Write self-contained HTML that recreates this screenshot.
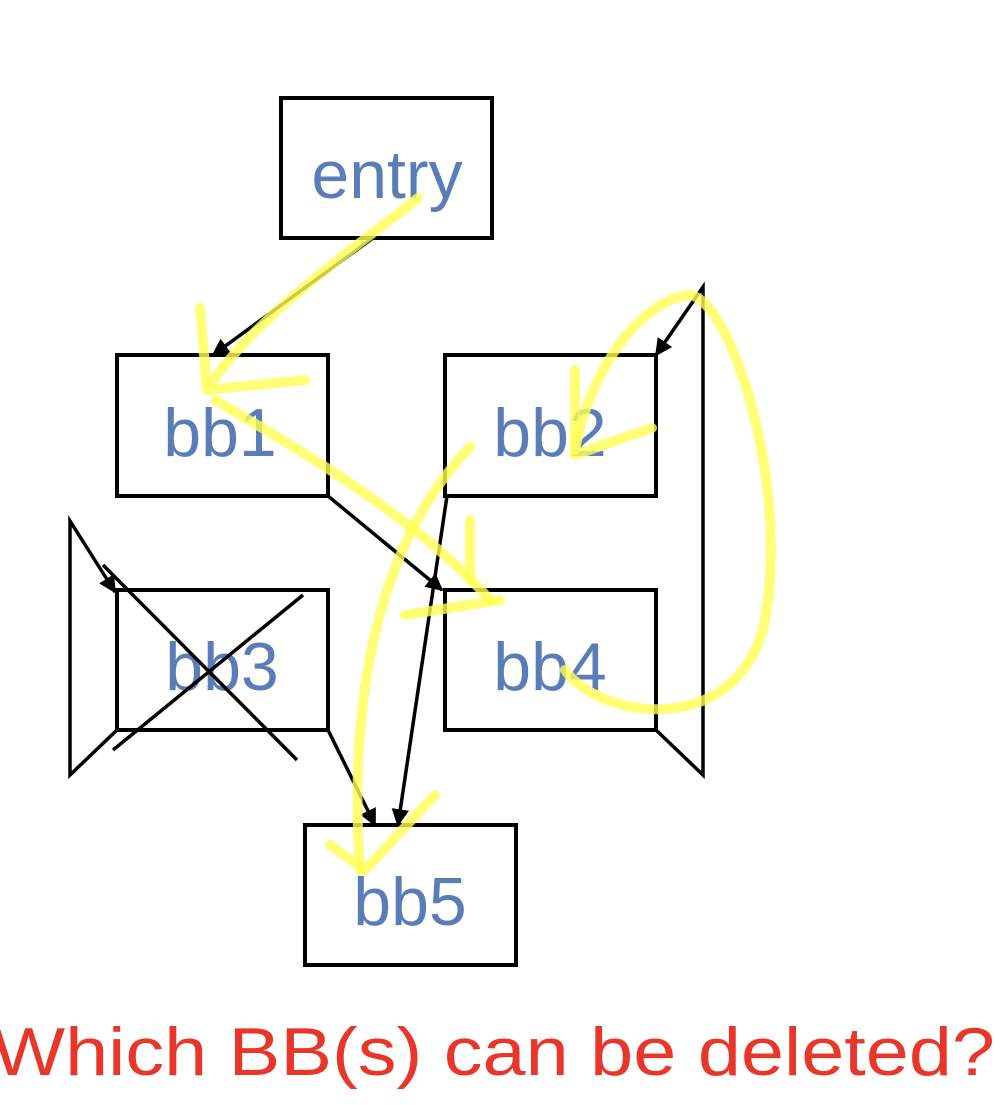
<!DOCTYPE html>
<html><head><meta charset="utf-8"><style>
html,body{margin:0;padding:0;background:#fff;width:1000px;height:1105px;overflow:hidden}
svg{display:block}
.box{fill:none;stroke:#000;stroke-width:4}
.lbl{font-family:"Liberation Sans",sans-serif;font-size:68px;fill:#5a7db7;text-anchor:middle}
.edge{fill:none;stroke:#000;stroke-width:3.5}
.hl{fill:none;stroke:#ffff55;stroke-opacity:0.8;stroke-width:10;stroke-linecap:round;stroke-linejoin:round}
</style></head><body>
<svg width="1000" height="1105" viewBox="0 0 1000 1105">
<defs><marker id="ah" viewBox="0 0 10 10" refX="9" refY="5" markerWidth="5" markerHeight="5" orient="auto"><path d="M0,0L10,5L0,10z" fill="#000"/></marker></defs>

<g><rect class="box" x="281" y="98" width="211" height="140"/><text class="lbl" x="387" y="198">entry</text></g>
<g><rect class="box" x="117" y="355" width="211" height="141"/><text class="lbl" x="220" y="456">bb1</text></g>
<g><rect class="box" x="445" y="355" width="211" height="141"/><text class="lbl" x="550" y="456">bb2</text></g>
<g><rect class="box" x="117" y="590" width="211" height="140"/><text class="lbl" x="222" y="690">bb3</text></g>
<g><rect class="box" x="445" y="590" width="211" height="140"/><text class="lbl" x="550" y="690">bb4</text></g>
<g><rect class="box" x="305" y="825" width="211" height="140"/><text class="lbl" x="410" y="925">bb5</text></g>

<path class="edge" marker-end="url(#ah)" d="M373,238L213,355"/>
<path class="edge" marker-end="url(#ah)" d="M328,496L442,590"/>
<path class="edge" marker-end="url(#ah)" d="M447,496L398,825"/>
<path class="edge" marker-end="url(#ah)" d="M328,730L375,825"/>
<path class="edge" marker-end="url(#ah)" d="M656,730L703,775L703,287L656,355"/>
<path class="edge" marker-end="url(#ah)" d="M117,730L70,775L70,521L115,592"/>
<path class="edge" d="M103,565L297,760M303,595L113,750"/>

<g>
<path class="hl" d="M418,198C380,230 260,310 210,385"/>
<path class="hl" d="M200,308L207,390L305,380"/>
<path class="hl" d="M215,400C300,450 420,520 490,600"/>
<path class="hl" d="M470,520L470,580M405,615L500,600"/>
<path class="hl" d="M470,447C400,520 345,650 360,870"/>
<path class="hl" d="M330,845L365,870L435,795"/>
<path class="hl" d="M565,670C600,720 740,740 765,620C790,480 730,300 690,295C640,300 590,370 575,450"/>
<path class="hl" d="M575,370L575,455L652,428"/>
</g>

<text x="-8" y="1075" textLength="1003" lengthAdjust="spacingAndGlyphs" style="font-family:'Liberation Sans',sans-serif;font-size:68px;fill:#e8372a">Which BB(s) can be deleted?</text>
</svg>
</body></html>
